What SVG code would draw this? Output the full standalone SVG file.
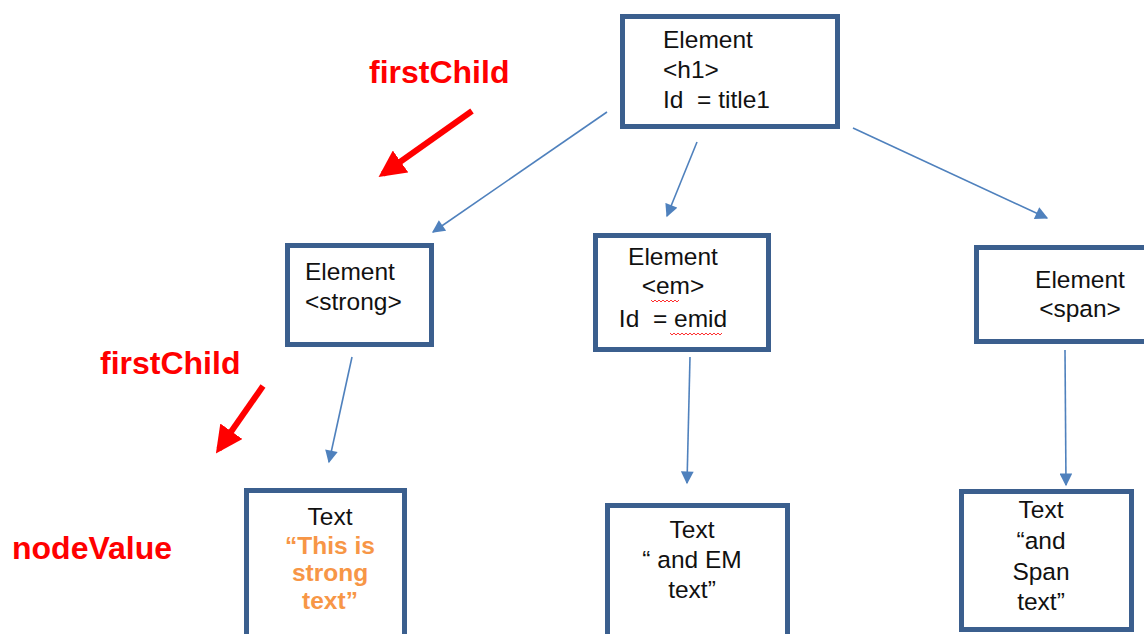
<svg xmlns="http://www.w3.org/2000/svg" width="1144" height="634" viewBox="0 0 1144 634">
  <style>
    .box { fill: #ffffff; stroke: #3b5f8e; stroke-width: 5; }
    .lbl { font-family: "Liberation Sans", Arial, sans-serif; font-size: 24.5px; fill: #111111; }
    .mid { text-anchor: middle; }
    .note { font-family: "Liberation Sans", Arial, sans-serif; font-size: 32px; font-weight: bold; fill: #ff0000; }
    .val { font-family: "Liberation Sans", Arial, sans-serif; font-size: 24.5px; font-weight: bold; fill: #f79646; text-anchor: middle; }
    .edge { stroke: #4f81bd; stroke-width: 1.6; fill: none; marker-end: url(#tip); }
    .hint { stroke: #ff0000; stroke-width: 6; fill: none; marker-end: url(#redtip); }
    .squig { stroke: #ff3030; stroke-width: 1; fill: none; }
  </style>
  <defs>
    <marker id="tip" viewBox="0 0 10 10" refX="9" refY="5" markerWidth="9" markerHeight="8" markerUnits="strokeWidth" orient="auto">
      <path d="M0,0 L10,5 L0,10 z" fill="#4f81bd"/>
    </marker>
    <marker id="redtip" viewBox="0 0 10 10" refX="8" refY="5" markerWidth="4.5" markerHeight="4.5" markerUnits="strokeWidth" orient="auto">
      <path d="M0,0 L10,5 L0,10 z" fill="#ff0000"/>
    </marker>
  </defs>

  <rect width="1144" height="634" fill="#ffffff"/>

  <!-- tree edges -->
  <g id="connectors">
    <line class="edge" x1="607" y1="112" x2="433" y2="232"/>
    <line class="edge" x1="697" y1="142" x2="667" y2="216"/>
    <line class="edge" x1="853" y1="128" x2="1047" y2="218"/>
    <line class="edge" x1="352" y1="357" x2="329" y2="462"/>
    <line class="edge" x1="690" y1="357" x2="687" y2="483"/>
    <line class="edge" x1="1065" y1="350" x2="1066" y2="485"/>
  </g>

  <!-- navigation hints -->
  <g id="hints">
    <text class="note" x="369" y="83">firstChild</text>
    <line class="hint" x1="472" y1="111" x2="383" y2="174"/>
    <text class="note" x="100" y="374">firstChild</text>
    <line class="hint" x1="263" y1="386" x2="219" y2="449"/>
    <text class="note" x="12" y="559">nodeValue</text>
  </g>

  <g id="node-h1">
    <rect class="box" x="622.5" y="16.5" width="215" height="110"/>
    <text class="lbl" x="663" y="48">Element</text>
    <text class="lbl" x="663" y="78">&lt;h1&gt;</text>
    <text class="lbl" x="663" y="108">Id&#160; = title1</text>
  </g>

  <g id="node-strong">
    <rect class="box" x="287.5" y="245.5" width="144" height="99"/>
    <text class="lbl" x="305" y="280">Element</text>
    <text class="lbl" x="305" y="310">&lt;strong&gt;</text>
  </g>

  <g id="node-em">
    <rect class="box" x="595.5" y="235.5" width="173" height="114"/>
    <text class="lbl mid" x="673" y="265">Element</text>
    <text class="lbl mid" x="673" y="294">&lt;em&gt;</text>
    <text class="lbl mid" x="673" y="327">Id&#160; = emid</text>
    <path class="squig" d="M651,300 l2,2 l2,-2 l2,2 l2,-2 l2,2 l2,-2 l2,2 l2,-2 l2,2 l2,-2 l2,2 l2,-2 l2,2 l2,-2"/>
    <path class="squig" d="M670,333 l2,2 l2,-2 l2,2 l2,-2 l2,2 l2,-2 l2,2 l2,-2 l2,2 l2,-2 l2,2 l2,-2 l2,2 l2,-2 l2,2 l2,-2 l2,2 l2,-2 l2,2 l2,-2 l2,2 l2,-2 l2,2 l2,-2 l2,2 l2,-2"/>
  </g>

  <g id="node-span">
    <rect class="box" x="976.5" y="247.5" width="180" height="94"/>
    <text class="lbl mid" x="1080" y="288">Element</text>
    <text class="lbl mid" x="1080" y="317">&lt;span&gt;</text>
  </g>

  <g id="text-strong">
    <rect class="box" x="246.5" y="490.5" width="158" height="160"/>
    <text class="lbl mid" x="330" y="525">Text</text>
    <text class="val" x="330" y="554">“This is</text>
    <text class="val" x="330" y="581">strong</text>
    <text class="val" x="330" y="609">text”</text>
  </g>

  <g id="text-em">
    <rect class="box" x="607.5" y="505.5" width="180" height="145"/>
    <text class="lbl mid" x="692" y="538">Text</text>
    <text class="lbl mid" x="692" y="568">“ and EM</text>
    <text class="lbl mid" x="692" y="598">text”</text>
  </g>

  <g id="text-span">
    <rect class="box" x="961.5" y="491.5" width="170" height="138"/>
    <text class="lbl mid" x="1041" y="518">Text</text>
    <text class="lbl mid" x="1041" y="549">“and</text>
    <text class="lbl mid" x="1041" y="580">Span</text>
    <text class="lbl mid" x="1041" y="610">text”</text>
  </g>
</svg>
